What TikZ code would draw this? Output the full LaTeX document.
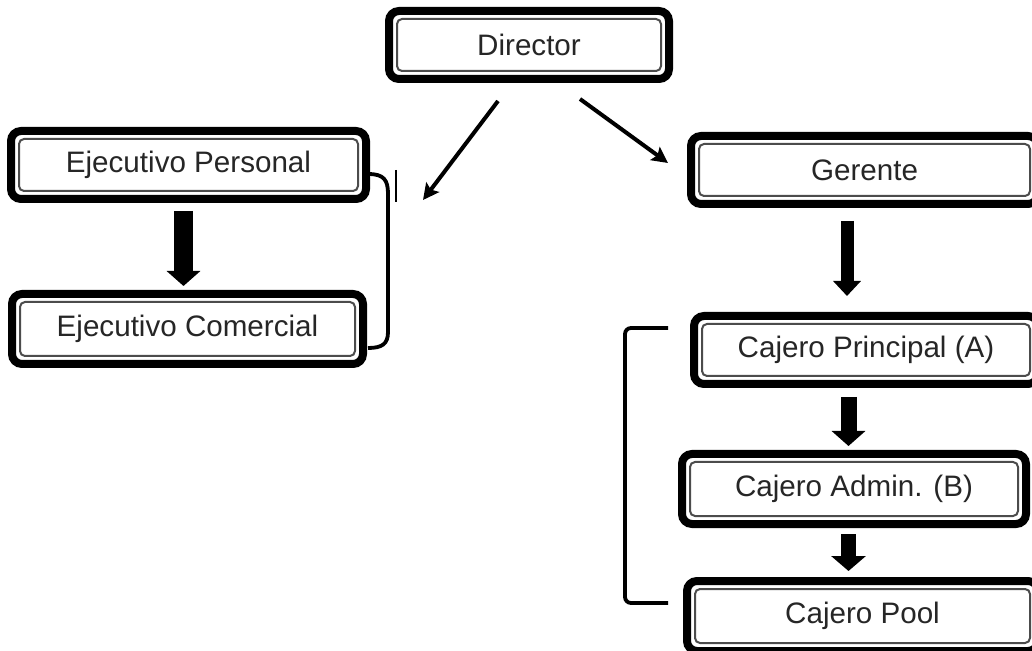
\documentclass[tikz,border=0pt]{standalone}
\usepackage{fontspec}
\setmainfont{Liberation Sans}
\usetikzlibrary{arrows.meta,calc}
\begin{document}
\begin{tikzpicture}[x=0.5pt,y=-0.5pt,
  orgbox/.style={draw=black, line width=4pt, rounded corners=5pt, fill=white,
    text=black!85, font=\fontsize{14.8}{17}\selectfont, inner sep=0pt,
    path picture={\draw[line width=1pt, draw=black!70, rounded corners=2.5pt]
      ([shift={(4pt,4pt)}]path picture bounding box.south west) rectangle
      ([shift={(-4pt,-4pt)}]path picture bounding box.north east);}},
  bigarrow/.style 2 args={line width=#1, -{Triangle[width=#2,length=7.5pt]}},
  thinarrow/.style={line width=2pt, -{Stealth[length=8pt,width=8pt,inset=1.5pt]}},
  bracket/.style={line width=1.9pt}
]
\useasboundingbox (0,0) rectangle (1032,651);
\clip (0,0) rectangle (1032,651);

\node[orgbox, minimum width=140pt, minimum height=34pt] (dir) at (529,45) {Director};
\node[orgbox, minimum width=177.5pt, minimum height=34pt] (ep) at (188.5,165) {Ejecutivo Personal};
\node[orgbox, minimum width=175.5pt, minimum height=35pt] (ec) at (187.5,329) {Ejecutivo Comercial};
\node[orgbox, minimum width=173.5pt, minimum height=34pt] (ger) at (864.5,170) {Gerente};
\node[orgbox, minimum width=172pt, minimum height=34pt] (cp) at (866,350) {Cajero Principal (A)};
\node[orgbox, minimum width=172pt, minimum height=35pt] (ca) at (854,489) {Cajero Admin. (B)};
\node[orgbox, minimum width=175.5pt, minimum height=35pt] (cpool) at (862.5,616) {Cajero Pool};

% thick arrows
\draw[bigarrow={9.5pt}{16.5pt}] ($(ep.south)+(-5,8)$) -- ($(ep.south |- ec.north)+(-5,-4)$);
\draw[bigarrow={6.5pt}{13.5pt}] ($(ger.south)+(-17.5,13)$) -- ($(ger.south |- cp.north)+(-17.5,-16)$);
\draw[bigarrow={8pt}{16.5pt}] ($(cp.south)+(-17.5,9)$) -- ($(cp.south |- ca.north)+(-17.5,-4)$);
\draw[bigarrow={7.5pt}{17pt}] ($(ca.south)+(-5.5,6)$) -- ($(ca.south |- cpool.north)+(-5.5,-6)$);

% thin arrows from Director
\coordinate (lend) at (423,200);
\draw[thinarrow] ($(dir.south)+(-31,18)$) -- (lend);
\draw[thinarrow] ($(dir.south)+(51,16)$) -- ($(ger.west)+(-19,-7)$);

% left bracket
\draw[bracket] (368,174) .. controls (384,174) and (388,180) .. (388,194)
  -- (388,332) .. controls (388,344) and (382,348) .. (368,348);
\draw[line width=1.2pt] (396,170) -- (396,202);

% right bracket
\draw[bracket, rounded corners=3pt] (668,328) -- (625,328) -- (625,603) -- (668,603);
\end{tikzpicture}
\end{document}
